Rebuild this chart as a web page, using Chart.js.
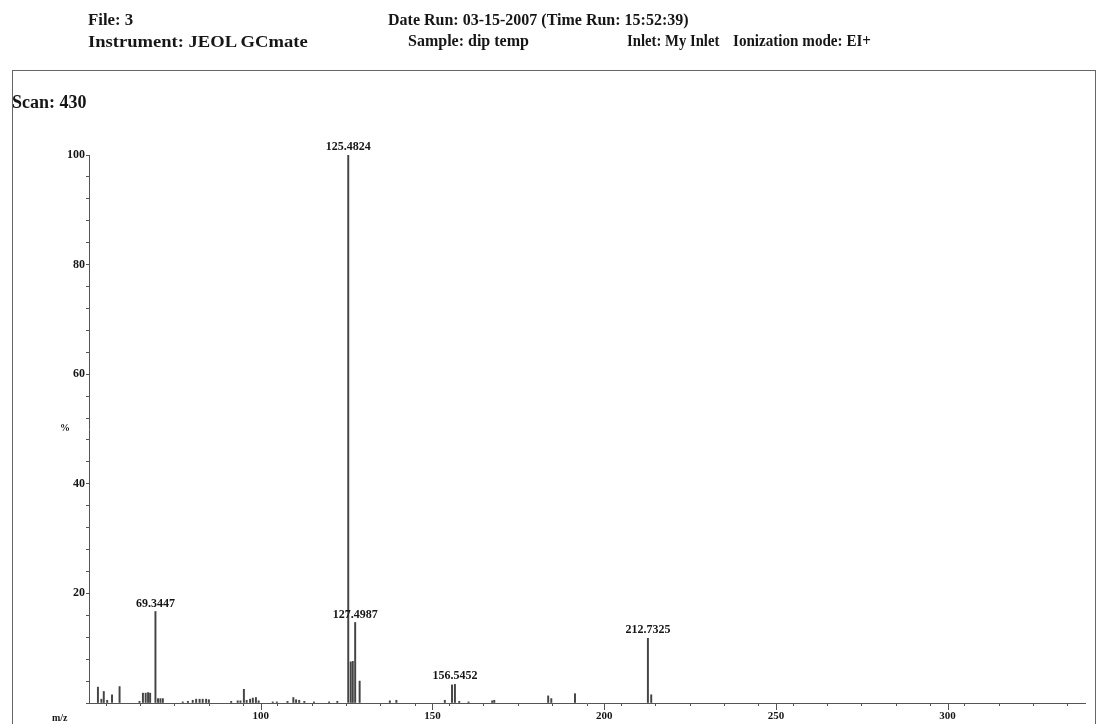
<!DOCTYPE html>
<html>
<head>
<meta charset="utf-8">
<script src="https://cdn.jsdelivr.net/npm/chart.js@4/dist/chart.umd.min.js"></script>
<style>
  body { margin: 0; background: #fff; }
  #wrap { position: relative; width: 1099px; height: 724px; overflow: hidden; }
  #chart { position: absolute; left: 0; top: 0; }
  .t { position: absolute; font-family: "Liberation Serif", "DejaVu Serif", serif; font-weight: bold; color: #161616; line-height: 16px; font-size: 16px; white-space: nowrap; transform-origin: left top; }
  #frame { position: absolute; left: 12px; top: 70px; width: 1082px; height: 700px; border: 1.5px solid #666; }
</style>
</head>
<body>
<div id="wrap">
  <div id="frame"></div>
  <canvas id="chart" width="1099" height="724"></canvas>
  <div class="t" style="left:88px; top:12px; transform:scaleX(1.05);">File: 3</div>
  <div class="t" style="left:88px; top:34px; transform:scaleX(1.16);">Instrument: JEOL GCmate</div>
  <div class="t" style="left:388px; top:12px;">Date Run: 03-15-2007 (Time Run: 15:52:39)</div>
  <div class="t" style="left:408px; top:33px;">Sample: dip temp</div>
  <div class="t" style="left:627px; top:33px; transform:scaleX(0.92);">Inlet: My Inlet</div>
  <div class="t" style="left:733px; top:33px; transform:scaleX(0.945);">Ionization mode: EI+</div>
  <div class="t" style="left:12px; top:93px; font-size:18px; line-height:18px;">Scan: 430</div>
  <div class="t" style="left:60px; top:423px; font-size:10px; line-height:10px;">%</div>
  <div class="t" style="left:52px; top:713px; font-size:10px; line-height:10px;">m/z</div>
</div>
<script>
// m/z positions and relative intensity (%)
const mzValues = [
  52.6, 53.6, 54.3, 55.3, 56.7, 58.9, 64.7, 65.7, 66.5, 67.2, 67.8,
  69.3447, 70.1, 70.8, 71.5,
  77.3, 78.8, 80.2, 81.2, 82.2, 83.1, 84.1, 84.9,
  91.4, 93.3, 94.1, 95.1, 95.9, 96.9, 97.7, 98.6, 99.4,
  103.5, 104.7, 107.8, 109.5, 110.3, 111.2, 112.7,
  115.5, 119.9, 122.3,
  125.4824, 126.2, 126.8, 127.4987, 128.8,
  137.6, 139.5, 153.6, 155.7, 156.5452, 157.8, 160.5, 167.4, 168.0,
  183.7, 184.6, 191.5,
  212.7325, 213.7
];
const intensities = [
  2.9, 0.7, 2.1, 0.5, 1.5, 3.0, 0.3, 1.8, 1.8, 1.9, 1.8,
  16.7, 0.8, 0.8, 0.8,
  0.2, 0.3, 0.5, 0.7, 0.7, 0.7, 0.7, 0.6,
  0.3, 0.4, 0.4, 2.5, 0.5, 0.7, 0.9, 1.0, 0.4,
  0.2, 0.2, 0.3, 1.0, 0.6, 0.5, 0.3,
  0.2, 0.2, 0.3,
  100, 7.5, 7.6, 14.7, 4.0,
  0.4, 0.5, 0.5, 3.3, 3.4, 0.3, 0.2, 0.4, 0.5,
  1.3, 0.8, 1.7,
  11.8, 1.5
];
// peaks that carry a mass label
const labeledPeaks = [69.3447, 125.4824, 127.4987, 156.5452, 212.7325];

const serif = '"Liberation Serif", "DejaVu Serif", serif';

// writes the mass above each labelled stick
const peakLabels = {
  id: 'peakLabels',
  afterDatasetsDraw(chart) {
    const ctx = chart.ctx;
    const meta = chart.getDatasetMeta(0);
    ctx.save();
    ctx.font = 'bold 12px ' + serif;
    ctx.fillStyle = '#161616';
    ctx.textAlign = 'center';
    ctx.textBaseline = 'bottom';
    labeledPeaks.forEach((mz) => {
      const i = mzValues.indexOf(mz);
      const bar = meta.data[i];
      ctx.fillText(mz.toFixed(4), bar.x, bar.y - 2);
    });
    ctx.restore();
  }
};

// longer tick marks at the labelled m/z values
const majorTicks = {
  id: 'majorTicks',
  afterDraw(chart) {
    const ctx = chart.ctx;
    const xs = chart.scales.x;
    ctx.save();
    ctx.strokeStyle = '#555';
    ctx.lineWidth = 1;
    [100, 150, 200, 250, 300].forEach((v) => {
      const px = Math.round(xs.getPixelForValue(v)) + 0.5;
      ctx.beginPath();
      ctx.moveTo(px, xs.top);
      ctx.lineTo(px, xs.top + 7);
      ctx.stroke();
    });
    ctx.restore();
  }
};

const config = {
  type: 'bar',
  data: {
    datasets: [{
      data: mzValues.map((x, i) => ({ x: x, y: intensities[i] })),
      backgroundColor: '#444',
      barThickness: 1.3,
      grouped: false
    }]
  },
  options: {
    responsive: false,
    animation: false,
    layout: { padding: { top: 155, right: 14, left: 0, bottom: 0 } },
    plugins: { legend: { display: false }, tooltip: { enabled: false } },
    scales: {
      x: {
        type: 'linear',
        offset: false,
        min: 50,
        max: 340,
        afterFit: (scale) => { scale.height = 21; },
        ticks: {
          stepSize: 10,
          autoSkip: false,
          maxRotation: 0,
          padding: 4,
          color: '#161616',
          font: { family: serif, weight: 'bold', size: 11 },
          callback: (v) => (v % 50 === 0 && v > 50) ? v : ''
        },
        grid: { drawOnChartArea: false, tickLength: 3, color: '#555' },
        border: { color: '#555', width: 1 }
      },
      y: {
        min: 0,
        max: 100,
        afterFit: (scale) => { scale.width = 89; },
        ticks: {
          stepSize: 4,
          autoSkip: false,
          padding: 1,
          color: '#161616',
          font: { family: serif, weight: 'bold', size: 12 },
          callback: (v) => (v % 20 === 0 && v > 0) ? v : ''
        },
        grid: { drawOnChartArea: false, tickLength: 3, color: '#555' },
        border: { color: '#555', width: 1 }
      }
    }
  },
  plugins: [peakLabels, majorTicks]
};

const myChart = new Chart(document.getElementById('chart'), config);
</script>
</body>
</html>
